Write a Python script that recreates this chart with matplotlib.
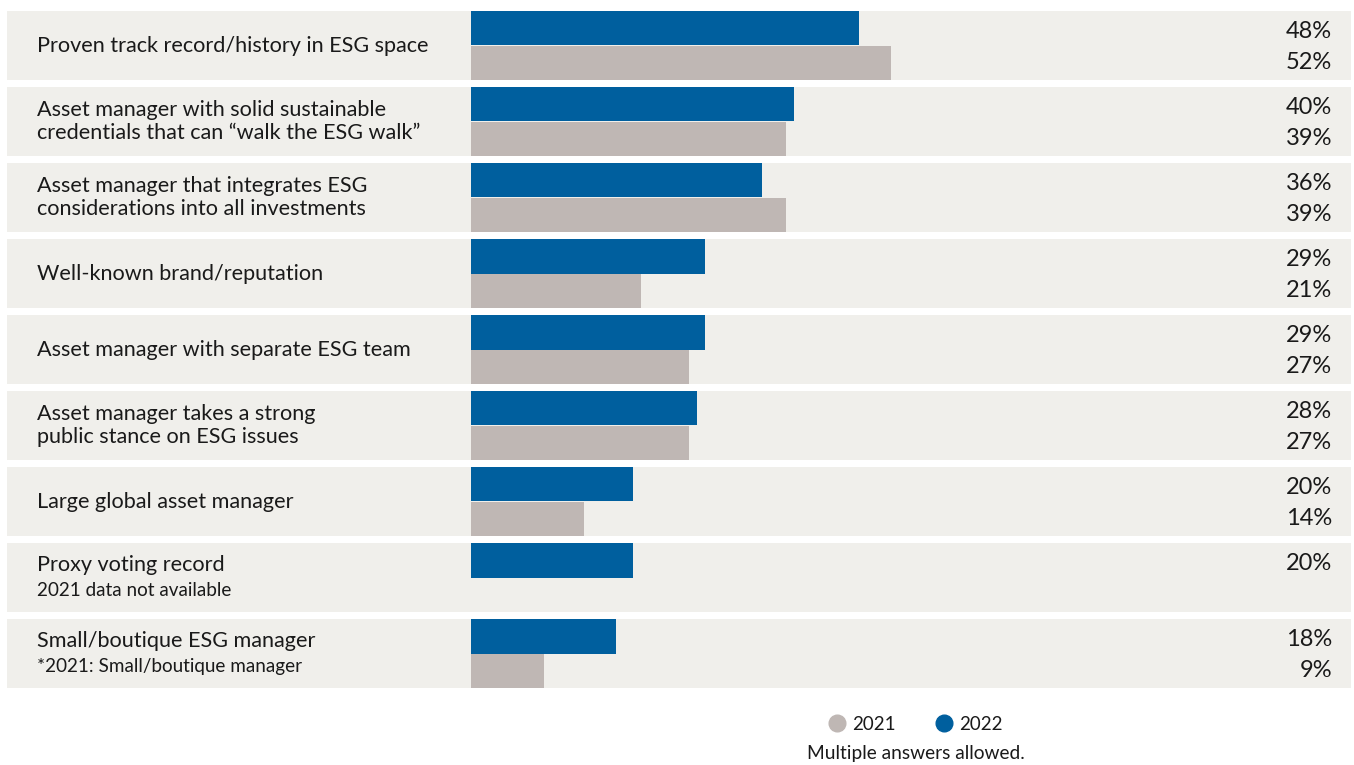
import matplotlib.pyplot as plt
from matplotlib.lines import Line2D
from matplotlib.transforms import blended_transform_factory

labels = [
    "Proven track record/history in ESG space",
    "Asset manager with solid sustainable\ncredentials that can \u201cwalk the ESG walk\u201d",
    "Asset manager that integrates ESG\nconsiderations into all investments",
    "Well-known brand/reputation",
    "Asset manager with separate ESG team",
    "Asset manager takes a strong\npublic stance on ESG issues",
    "Large global asset manager",
    "Proxy voting record",
    "Small/boutique ESG manager",
]
sublabels = ["", "", "", "", "", "", "", "2021 data not available", "*2021: Small/boutique manager"]
v2022 = [48, 40, 36, 29, 29, 28, 20, 20, 18]
v2021 = [52, 39, 39, 21, 27, 27, 14, None, 9]

BLUE = "#005f9e"
GREY = "#bfb7b4"
BG = "#f0efeb"
TXT = "#1a1a1a"

plt.rcParams["font.family"] = ["Lato", "DejaVu Sans"]

W, H = 1354, 765
fig = plt.figure(figsize=(W / 100, H / 100), dpi=100)

# axes spans the row backgrounds: x 7..1351 px, y 7.5..691.5 px
ax = fig.add_axes([7 / W, 1 - 691.5 / H, 1344 / W, 684 / H])
px_per_pct = 8.08
xmin = -(471 - 7) / px_per_pct
xmax = (1351 - 471) / px_per_pct
ax.set_xlim(xmin, xmax)
ax.set_ylim(len(labels) - 0.5, -0.5)
ax.axis("off")

half = 0.454
tr = blended_transform_factory(ax.transAxes, ax.transData)
for i, lab in enumerate(labels):
    ax.barh(i, xmax - xmin, left=xmin, height=2 * half, color=BG, zorder=0)
    ax.barh(i - half / 2, v2022[i], height=half, color=BLUE, zorder=2)
    if v2021[i] is not None:
        ax.barh(i + half / 2, v2021[i], height=half, color=GREY, zorder=2)
        ax.text(0.9859, i + 0.225, f"{v2021[i]}%", transform=tr, ha="right",
                va="center", fontsize=17, color=TXT)
    ax.text(0.9859, i - 0.185, f"{v2022[i]}%", transform=tr, ha="right",
            va="center", fontsize=17, color=TXT)
    if sublabels[i]:
        ax.text(0.0223, i - 0.165, lab, transform=tr, ha="left", va="center",
                fontsize=15.6, color=TXT)
        ax.text(0.0223, i + 0.17, sublabels[i], transform=tr, ha="left",
                va="center", fontsize=13.6, color=TXT)
    else:
        ax.text(0.0223, i, lab, transform=tr, ha="left", va="center",
                fontsize=15.6, color=TXT, linespacing=1.22)

handles = [
    Line2D([], [], marker="o", linestyle="none", markersize=12, color=GREY, label="2021"),
    Line2D([], [], marker="o", linestyle="none", markersize=12, color=BLUE, label="2022"),
]
fig.legend(handles=handles, loc="center", bbox_to_anchor=(914 / W, 1 - 724 / H), ncol=2,
           frameon=False, fontsize=13.5, handletextpad=0.2, columnspacing=2.0,
           handlelength=1.2, labelcolor=TXT)
fig.text(916 / W, 1 - 754 / H, "Multiple answers allowed.", ha="center", va="center",
         fontsize=13.8, color=TXT)

fig.savefig("out.png", dpi=100, facecolor="white")
